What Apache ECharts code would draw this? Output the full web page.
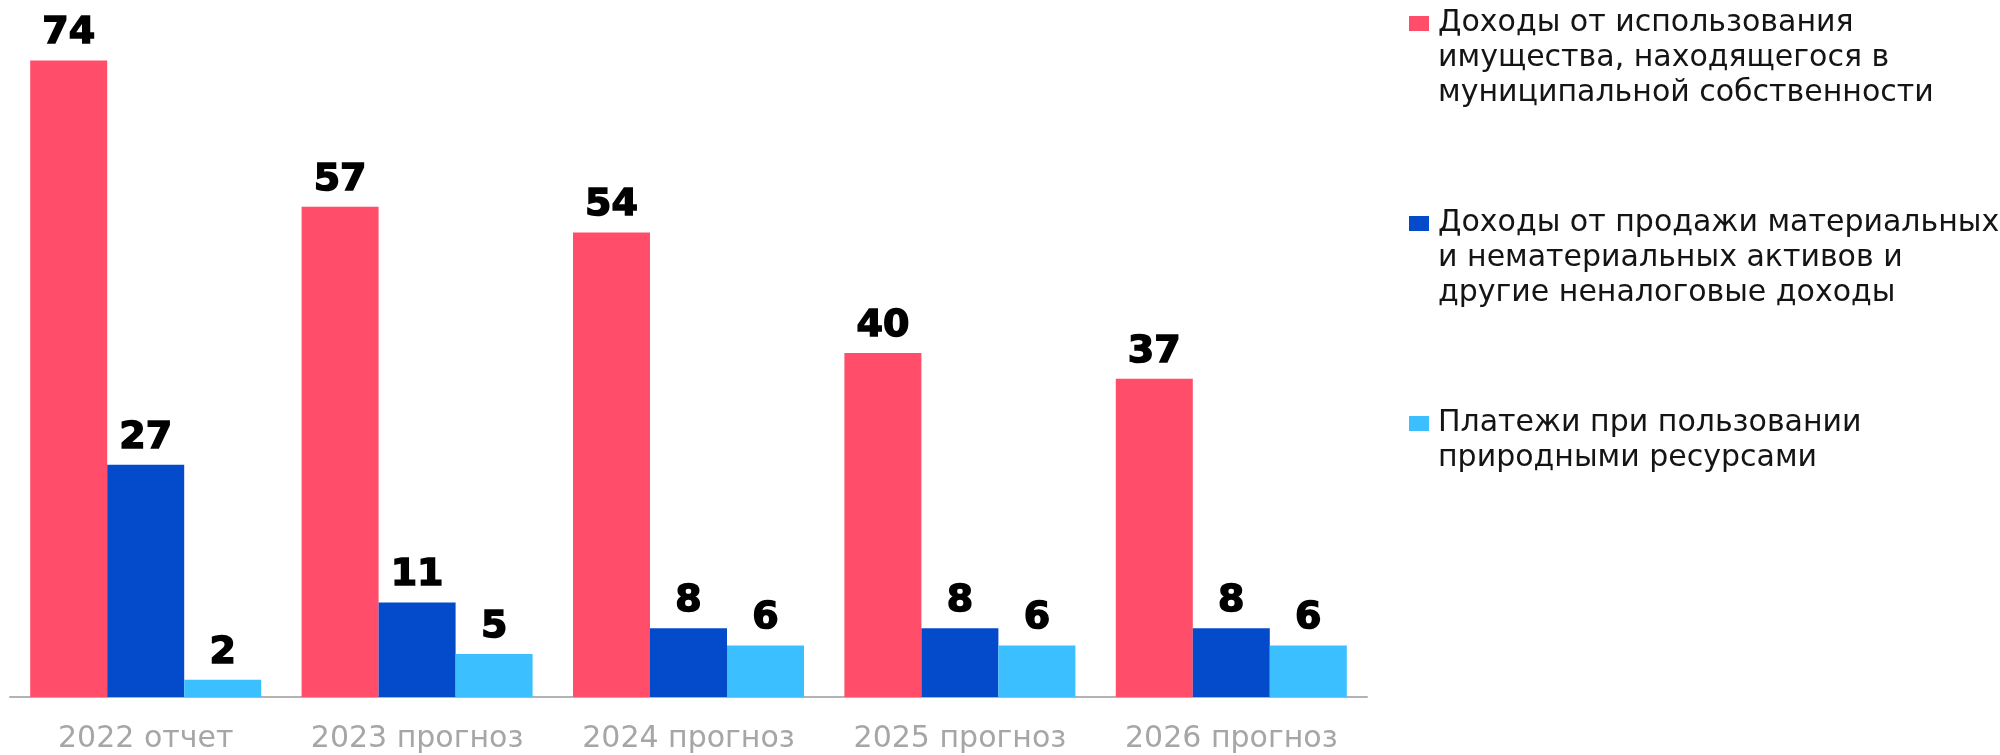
<!DOCTYPE html>
<html>
<head>
<meta charset="utf-8">
<script src="https://cdn.jsdelivr.net/npm/echarts@6/dist/echarts.min.js"></script>
<style>
html,body{margin:0;padding:0;background:#fff;}
#chart{width:2000px;height:755px;}
</style>
</head>
<body>
<div id="chart"></div>
<script>
const categories = ['2022 отчет', '2023 прогноз', '2024 прогноз', '2025 прогноз', '2026 прогноз'];
const seriesNames = [
  'Доходы от использования имущества, находящегося в муниципальной собственности',
  'Доходы от продажи материальных и нематериальных активов и другие неналоговые доходы',
  'Платежи при пользовании природными ресурсами'
];
const legendLines = [
  ['Доходы от использования', 'имущества, находящегося в', 'муниципальной собственности'],
  ['Доходы от продажи материальных', 'и нематериальных активов и', 'другие неналоговые доходы'],
  ['Платежи при пользовании', 'природными ресурсами']
];
const propertyIncome = [74, 57, 54, 40, 37];
const salesIncome = [27, 11, 8, 8, 8];
const resourcePayments = [2, 5, 6, 6, 6];
const colors = ['#FF4D6A', '#044BCC', '#3BBFFF'];

const seriesValues = [propertyIncome, salesIncome, resourcePayments];
const LH = 35;
// legend marker: 20x15 square at the first text line, inside a 20x105 icon box
const legendIcon = 'path://M0,0L0,0Z M0,10L20,10L20,25L0,25Z M20,105L20,105Z';

const chart = echarts.init(document.getElementById('chart'), null, {renderer: 'canvas'});
chart.setOption({
  animation: false,
  backgroundColor: '#ffffff',
  grid: {left: 10, right: 633, top: 9, bottom: 58},
  xAxis: {
    type: 'category',
    data: categories,
    axisLine: {lineStyle: {color: '#b3b3b3', width: 2}},
    axisTick: {show: false},
    axisLabel: {color: '#a6a6a6', fontSize: 30, fontFamily: 'DejaVu Sans', margin: 27, interval: 0, hideOverlap: false}
  },
  yAxis: {type: 'value', min: 0, max: 80, show: false, splitLine: {show: false}},
  legend: {
    orient: 'vertical',
    left: 1409,
    top: 6,
    padding: 0,
    itemGap: 95,
    itemWidth: 20,
    itemHeight: 105,
    icon: legendIcon,
    selectedMode: false,
    textStyle: {fontSize: 30, lineHeight: LH, fontFamily: 'DejaVu Sans', color: '#141414', padding: [0, 0, 0, 4]},
    data: seriesNames.map(function (n) {
      return {name: n, icon: legendIcon};
    }),
    formatter: function (name) {
      const lines = legendLines[seriesNames.indexOf(name)].slice();
      while (lines.length < 3) lines.push(' ');
      return lines.join('\n');
    }
  },
  series: seriesNames.map(function (n, i) {
    return {
      name: n,
      type: 'bar',
      data: seriesValues[i],
      barWidth: 77,
      barGap: '0%',
      itemStyle: {color: colors[i]},
      label: {
        show: true,
        position: 'top',
        distance: 8,
        fontSize: 38,
        fontWeight: 'bold',
        fontFamily: 'DejaVu Sans',
        color: '#000000',
        textBorderColor: '#000000',
        textBorderWidth: 1.5
      }
    };
  })
});
</script>
</body>
</html>
